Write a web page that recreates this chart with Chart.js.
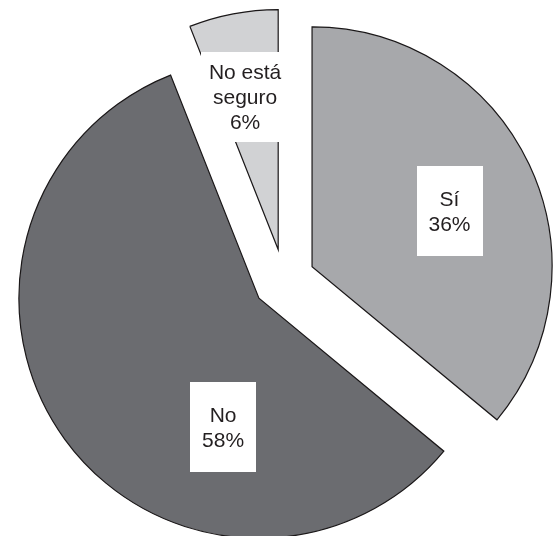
<!DOCTYPE html>
<html>
<head>
<meta charset="utf-8">
<script src="https://cdn.jsdelivr.net/npm/chart.js@4.4.1/dist/chart.umd.min.js"></script>
<style>
  html, body { margin: 0; padding: 0; background: #ffffff; }
  #wrap { width: 554px; height: 536px; position: relative; }
</style>
</head>
<body>
<div id="wrap"><canvas id="pie"></canvas></div>
<script>
// Survey answers
const categories = ['Sí', 'No', 'No está seguro'];
const shares = [36, 58, 6];
// Text shown in each slice's label box (one entry per line)
const labelLines = [
  ['Sí', '36%'],
  ['No', '58%'],
  ['No está', 'seguro', '6%']
];
const sliceColors = ['#a7a8ab', '#6b6c70', '#d1d2d4'];

// Draws each slice pulled away from the centre, along its own middle angle.
const explodePlugin = {
  id: 'explode',
  beforeDatasetsDraw(chart, args, opts) {
    const ctx = chart.ctx;
    chart.getDatasetMeta(0).data.forEach((arc) => {
      const mid = (arc.startAngle + arc.endAngle) / 2;
      ctx.save();
      ctx.translate(Math.cos(mid) * opts.distance, Math.sin(mid) * opts.distance);
      arc.draw(ctx);
      ctx.restore();
    });
    return false;
  }
};

// White label boxes placed inside the slices.
const boxLabelPlugin = {
  id: 'boxLabels',
  afterDraw(chart, args, opts) {
    const ctx = chart.ctx;
    const meta = chart.getDatasetMeta(0);
    ctx.save();
    ctx.font = opts.fontSize + 'px ' + opts.fontFamily;
    ctx.textAlign = 'center';
    ctx.textBaseline = 'alphabetic';
    meta.data.forEach((arc, i) => {
      const place = opts.placement[i];
      const ang = (arc.startAngle + arc.endAngle) / 2 + place.shift * Math.PI / 180;
      const r = arc.outerRadius * place.radius;
      const cx = arc.x + Math.cos(ang) * r;
      const cy = arc.y + Math.sin(ang) * r;
      const lines = labelLines[i];
      const textW = Math.max(...lines.map(l => ctx.measureText(l).width));
      const w = Math.max(opts.minWidth, textW + 2 * opts.padX);
      const h = opts.boxHeight;
      ctx.fillStyle = '#ffffff';
      ctx.fillRect(Math.round(cx - w / 2), Math.round(cy - h / 2), Math.round(w), h);
      ctx.fillStyle = opts.color;
      const capH = opts.fontSize * 0.716;
      const blockH = (lines.length - 1) * opts.lineHeight + capH;
      const baseY = cy - blockH / 2 + capH;
      lines.forEach((l, k) => {
        ctx.fillText(l, cx, baseY + k * opts.lineHeight);
      });
    });
    ctx.restore();
  }
};

new Chart(document.getElementById('pie'), {
  type: 'pie',
  data: {
    labels: categories,
    datasets: [{
      data: shares,
      backgroundColor: sliceColors,
      borderColor: '#1a1718',
      borderWidth: 1.2,
      borderAlign: 'center',
      borderJoinStyle: 'miter'
    }]
  },
  options: {
    responsive: true,
    maintainAspectRatio: false,
    animation: false,
    radius: 240,
    layout: { padding: { left: 14, top: 24, right: 0, bottom: 0 } },
    plugins: {
      legend: { display: false },
      tooltip: { enabled: false },
      explode: { distance: 31 },
      boxLabels: {
        fontFamily: '"Liberation Sans", Arial, Helvetica, sans-serif',
        fontSize: 21,
        lineHeight: 25,
        color: '#231f20',
        padX: 8,
        minWidth: 66,
        boxHeight: 90,
        placement: [
          { shift: 2.6, radius: 0.747 },
          { shift: -31.5, radius: 0.663 },
          { shift: -1.2, radius: 0.78 }
        ]
      }
    }
  },
  plugins: [explodePlugin, boxLabelPlugin]
});
</script>
</body>
</html>
